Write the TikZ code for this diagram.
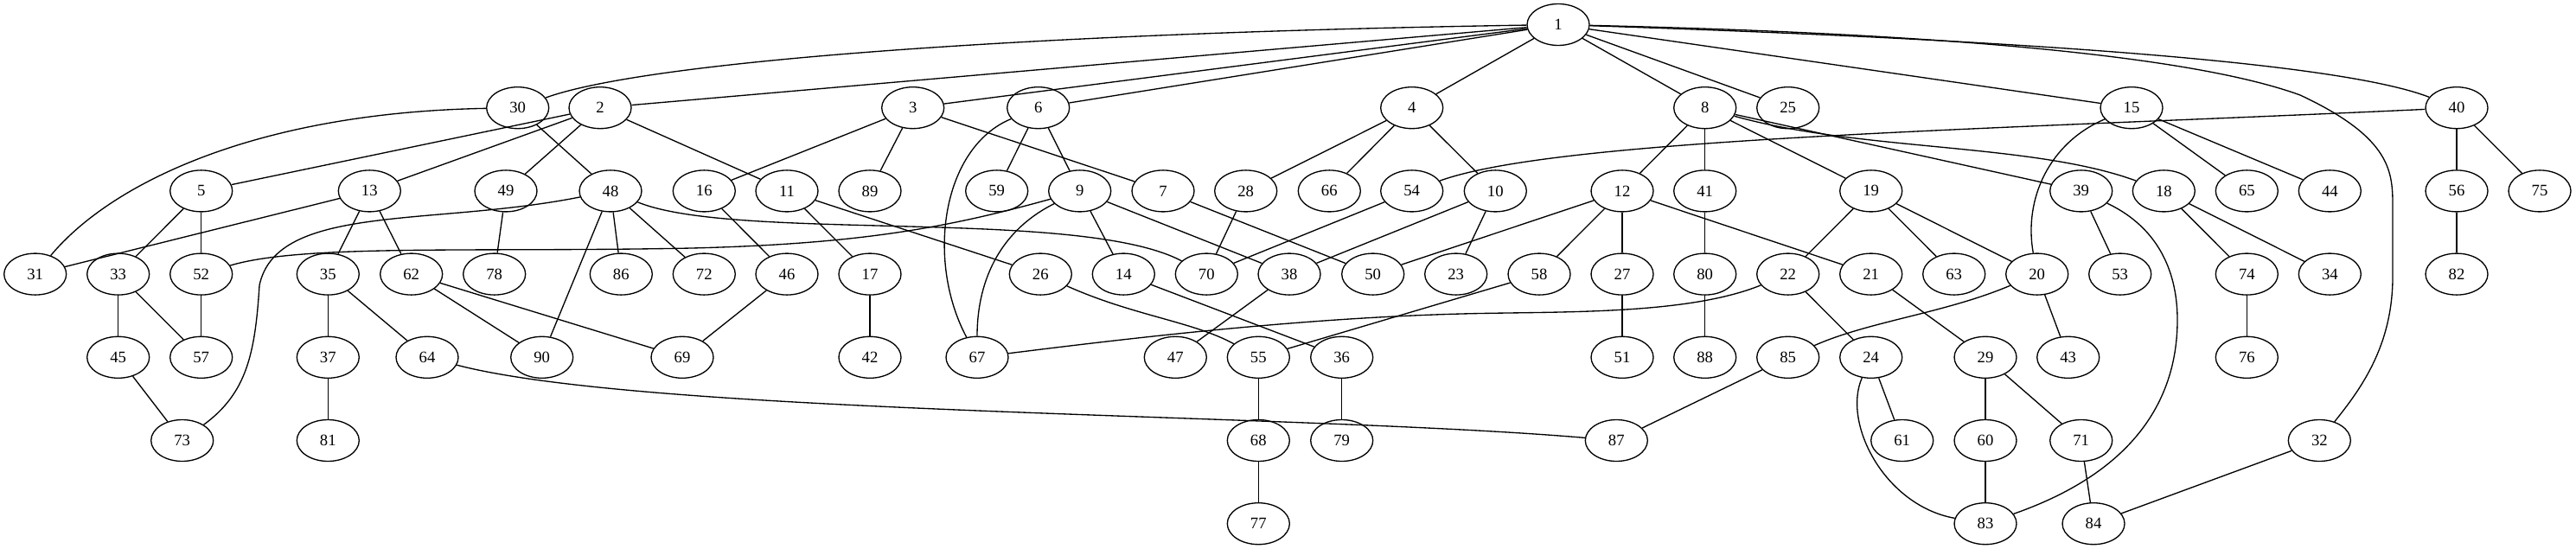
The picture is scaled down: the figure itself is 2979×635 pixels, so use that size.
\documentclass[tikz,border=0pt]{standalone}
\usepackage{fontspec}
\setmainfont{Liberation Serif}
\usetikzlibrary{shapes.geometric}
\begin{document}
\begin{tikzpicture}[x=0.75pt,y=-0.75pt,
  gn/.style={ellipse,draw,line width=1pt,minimum width=54pt,minimum height=36pt,inner sep=0pt,font=\fontsize{14}{14}\selectfont},
  ed/.style={line width=1pt}]
\useasboundingbox (0,0) rectangle (2979,635);
% row 0
\node[gn] (n1) at (1802,28.5) {1};
% row 1
\foreach \n/\x in {30/598.7,2/694,3/1055.7,6/1200.7,4/1632.7,8/1971.7,25/2067.7,15/2465,40/2841}
  \node[gn] (n\n) at (\x,124.7) {\n};
% row 2
\foreach \n/\x in {5/232.7,13/427.3,49/585,48/706,16/814.3,11/910,89/1006,59/1152.7,9/1248.7,7/1345,28/1440.7,66/1537.3,54/1632.7,10/1729.3,12/1876,41/1971.7,19/2163.7,39/2406.7,18/2502.3,65/2598.3,44/2694.3,56/2841,75/2937}
  \node[gn] (n\n) at (\x,220.9) {\n};
% row 3
\foreach \n/\x in {31/40.7,33/136.7,52/232.7,35/379.3,62/475.7,78/571.7,86/718.3,72/814.3,46/910,17/1006,26/1203.3,14/1299.3,70/1395.3,38/1491,50/1587.7,23/1683.7,58/1780,27/1876,80/1971.7,22/2067.7,21/2163.7,63/2259.7,20/2355.7,53/2451.7,74/2598.3,34/2694.3,82/2841}
  \node[gn] (n\n) at (\x,317.1) {\n};
% row 4
\foreach \n/\x in {45/136.7,57/232.7,37/379.3,64/494,90/626.7,69/789,42/1006,67/1130,47/1359.3,55/1455.3,36/1551.7,51/1876,88/1971.7,85/2067.7,24/2163.7,29/2296,43/2391.7,76/2598.3}
  \node[gn] (n\n) at (\x,413.3) {\n};
% row 5
\foreach \n/\x in {73/210.7,81/379.3,68/1455.3,79/1551.7,87/1869.3,61/2199.7,60/2296,71/2406.7,32/2682.3}
  \node[gn] (n\n) at (\x,509.5) {\n};
% row 6
\foreach \n/\x in {77/1455.3,83/2296,84/2421}
  \node[gn] (n\n) at (\x,605.7) {\n};
% straight edges
\foreach \a/\b in {1/2,1/3,1/6,1/4,1/8,1/25,1/15,
  2/5,2/13,2/49,2/11,30/48,3/16,3/89,3/7,6/59,6/9,4/28,4/66,4/10,
  8/12,8/41,8/19,8/39,15/65,15/44,40/56,40/75,5/33,5/52,13/31,13/35,13/62,
  48/90,48/86,48/72,49/78,16/46,11/17,11/26,9/14,9/38,7/50,28/70,54/70,10/38,10/23,
  12/50,12/58,12/27,12/21,41/80,80/88,27/51,19/22,19/63,19/20,39/53,18/74,18/34,
  56/82,74/76,33/45,33/57,52/57,45/73,35/37,35/64,37/81,62/90,62/69,46/69,17/42,
  14/36,38/47,58/55,20/43,21/29,29/60,29/71,60/83,71/84,24/61,22/24,85/87,32/84,
  55/68,68/77,36/79}
  \draw[ed] (n\a) -- (n\b);
% curved edges
\draw[ed] (n1) .. controls (1200,38) and (750,70) .. (n30);
\draw[ed] (n1) .. controls (2300,45) and (2700,70) .. (n40);
\draw[ed] (n1) .. controls (2300,40) and (2550,70) .. (2660,110) .. controls (2767,160) and (2767,200) .. (2767,240) -- (2767,320) .. controls (2767,400) and (2730,450) .. (n32);
\draw[ed] (n30) .. controls (300,130) and (130,210) .. (n31);
\draw[ed] (n48) .. controls (500,262) and (320,235) .. (300,330) .. controls (295,410) and (285,455) .. (n73);
\draw[ed] (n48) .. controls (850,280) and (1250,240) .. (n70);
\draw[ed] (n9) .. controls (1100,262) and (1000,282) .. (800,287) .. controls (550,292) and (350,282) .. (n52);
\draw[ed] (n6) .. controls (1090,170) and (1070,300) .. (n67);
\draw[ed] (n9) .. controls (1160,265) and (1130,320) .. (n67);
\draw[ed] (n40) .. controls (2300,150) and (1800,160) .. (n54);
\draw[ed] (n8) .. controls (2150,175) and (2350,165) .. (n18);
\draw[ed] (n15) .. controls (2370,165) and (2340,230) .. (n20);
\draw[ed] (n39) .. controls (2500,265) and (2518,320) .. (2518,370) .. controls (2518,460) and (2470,545) .. (n83);
\draw[ed] (n24) .. controls (2130,490) and (2180,585) .. (n83);
\draw[ed] (n64) .. controls (750,480) and (1500,478) .. (n87);
\draw[ed] (n26) .. controls (1310,365) and (1380,372) .. (n55);
\draw[ed] (n22) .. controls (1950,365) and (1800,360) .. (1690,363) .. controls (1500,368) and (1300,392) .. (n67);
\draw[ed] (n20) .. controls (2250,362) and (2160,372) .. (n85);
\end{tikzpicture}
\end{document}
